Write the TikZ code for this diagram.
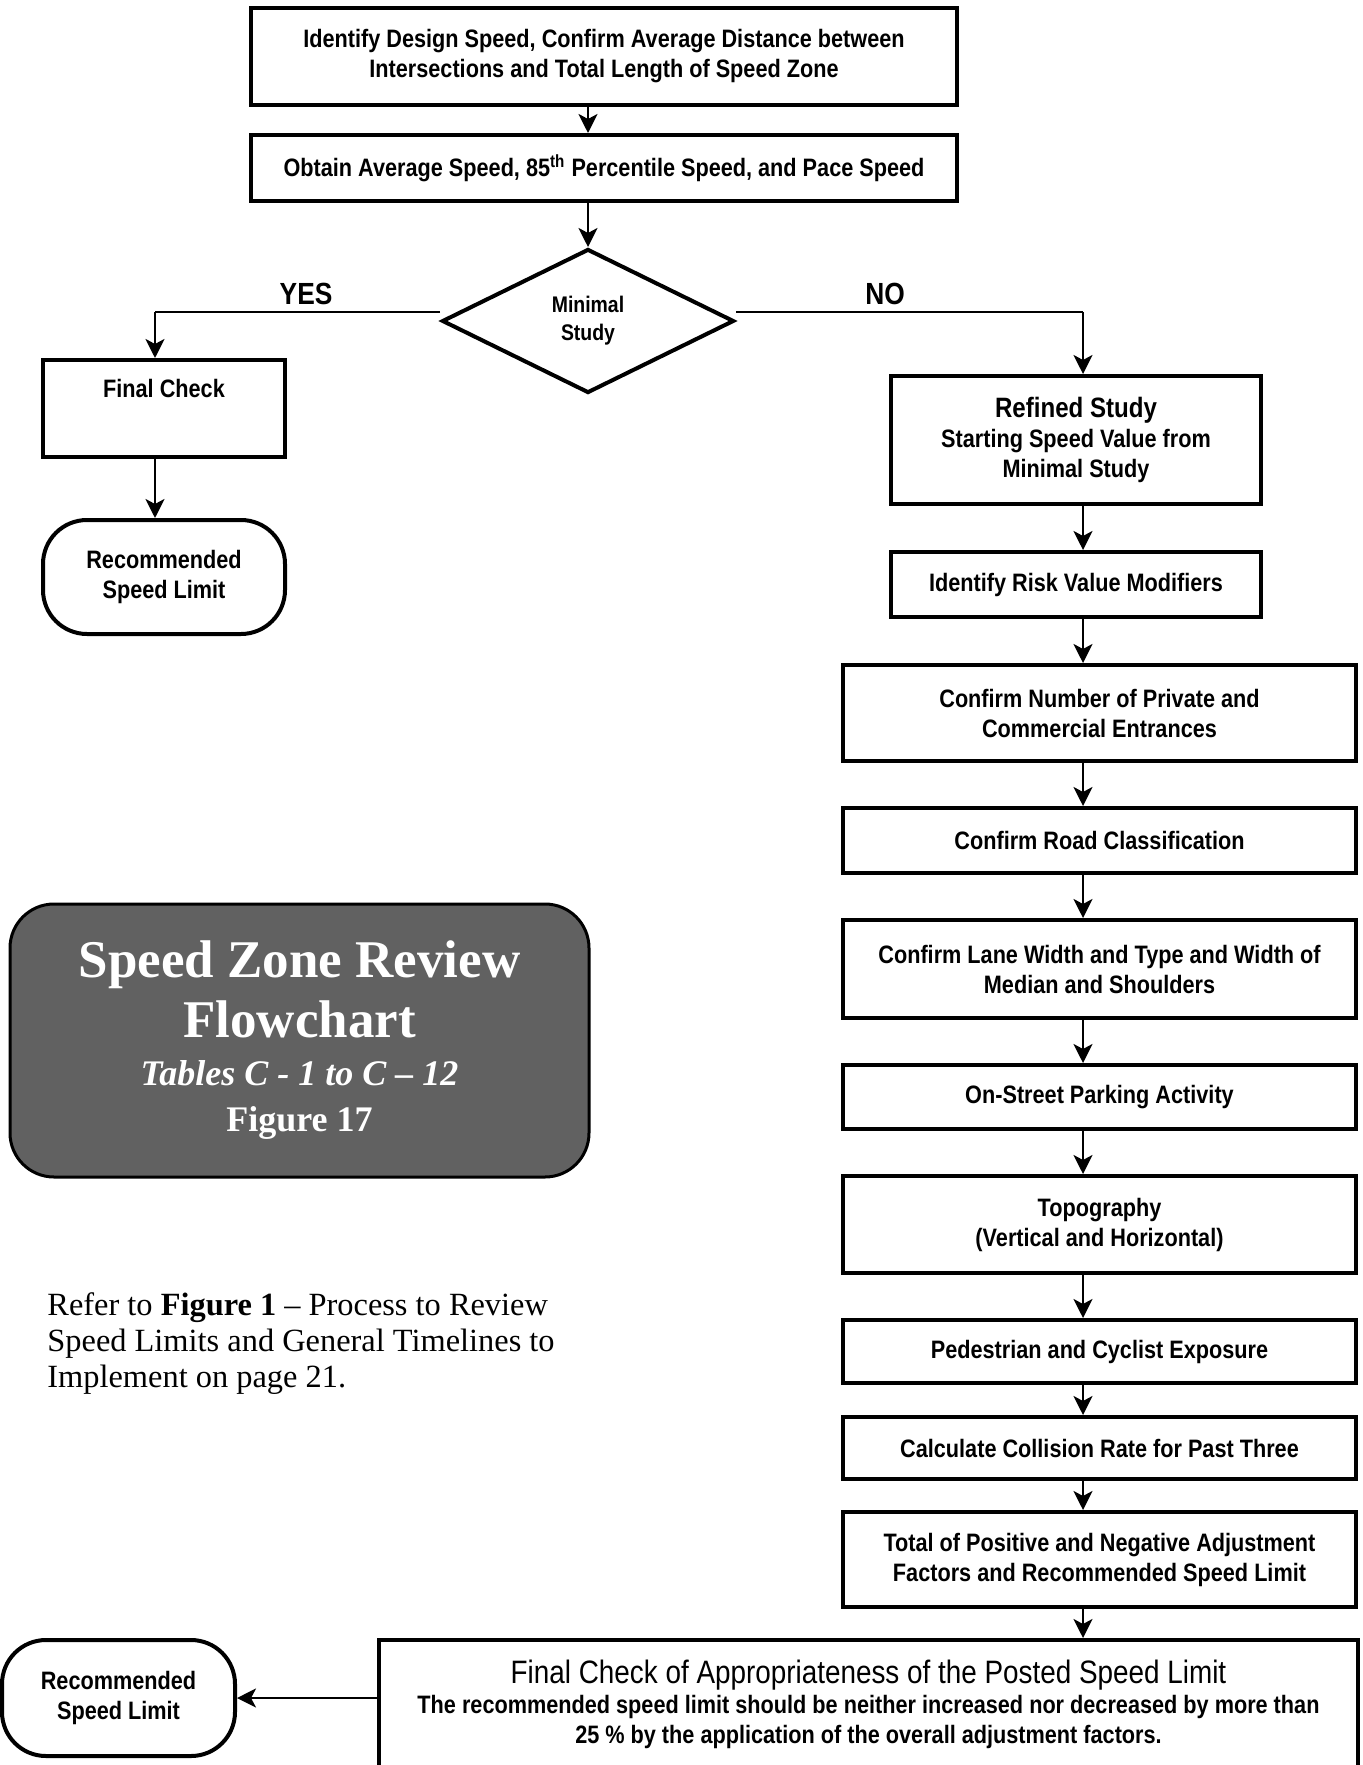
\documentclass[tikz,border=0pt]{standalone}
\usepackage{fontspec}
\setmainfont{Liberation Serif}
\newfontfamily\narrowsans[FakeStretch=0.86]{Liberation Sans}
\usetikzlibrary{shapes.geometric,arrows.meta}

\begin{document}
\begin{tikzpicture}
	[x=0.5pt,y=-0.5pt,line join=miter,
	%Styles
	process box/.style={draw,line width=2pt,inner sep=0pt,align=center,font=\narrowsans\bfseries\fontsize{12.6}{15}\selectfont},
	end box/.style={process box,rounded corners=22pt},
	decision/.style={diamond,draw,line width=2pt,inner sep=0pt,aspect=2,align=center,font=\narrowsans\bfseries\fontsize{11.3}{14}\selectfont},
	title box/.style={draw,line width=1.5pt,rounded corners=22pt,fill=titlefill,text=white,align=center,font=\bfseries\fontsize{26.5}{30}\selectfont},
	flow line/.style={line width=1.35pt,-{Stealth[length=9.5pt,width=9.5pt,inset=2.5pt]}},
	branch line/.style={line width=0.7pt},
	branch text/.style={font=\narrowsans\bfseries\fontsize{15.3}{18}\selectfont}
	]
	
	%Colors
	\colorlet{titlefill}{black!62}
	
	\useasboundingbox (0,0) rectangle (1362,1765);
	
	%The graphic
	\node[process box,minimum width=353pt,minimum height=48.5pt] (design) at (604,56.5)
		{Identify Design Speed, Confirm Average Distance between\\Intersections and Total Length of Speed Zone};
	\node[process box,minimum width=353pt,minimum height=33pt] (speeds) at (604,168)
		{Obtain Average Speed, 85\textsuperscript{th} Percentile Speed, and Pace Speed};
	\node[decision,minimum width=146pt,minimum height=72pt] (minimal) at (588,321) {Minimal\\Study};
	
	%left branch
	\node[process box,minimum width=121pt,minimum height=48.5pt,
		label={[font=\narrowsans\bfseries\fontsize{12.6}{15}\selectfont,anchor=north,yshift=-7pt]north:Final Check}] (check) at (164,408.5) {};
	\node[end box,minimum width=121pt,minimum height=57pt] (recmin) at (164,577) {Recommended\\Speed Limit};
	
	%right branch
	\node[process box,minimum width=185pt,minimum height=64pt] (refined) at (1076,440)
		{{\fontsize{14}{16}\selectfont Refined Study}\\Starting Speed Value from\\Minimal Study};
	\node[process box,minimum width=185pt,minimum height=32.5pt] (risk) at (1076,584.5) {Identify Risk Value Modifiers};
	\node[process box,minimum width=256.5pt,minimum height=48pt] (entrances) at (1099.5,713)
		{Confirm Number of Private and\\Commercial Entrances};
	\node[process box,minimum width=256.5pt,minimum height=32.5pt] (class) at (1099.5,840.5) {Confirm Road Classification};
	\node[process box,minimum width=256.5pt,minimum height=49pt] (lanes) at (1099.5,969)
		{Confirm Lane Width and Type and Width of\\Median and Shoulders};
	\node[process box,minimum width=256.5pt,minimum height=32pt] (parking) at (1099.5,1097) {On-Street Parking Activity};
	\node[process box,minimum width=256.5pt,minimum height=48.5pt] (topo) at (1099.5,1224.5)
		{Topography\\(Vertical and Horizontal)};
	\node[process box,minimum width=256.5pt,minimum height=31.5pt] (exposure) at (1099.5,1351.5) {Pedestrian and Cyclist Exposure};
	\node[process box,minimum width=256.5pt,minimum height=31pt] (collision) at (1099.5,1448) {Calculate Collision Rate for Past Three};
	\node[process box,minimum width=256.5pt,minimum height=47.5pt] (total) at (1099.5,1559.5)
		{Total of Positive and Negative Adjustment\\Factors and Recommended Speed Limit};
	\node[process box,minimum width=489.5pt,minimum height=64pt] (final) at (868.5,1704)
		{{\mdseries\fontsize{16.2}{19}\selectfont Final Check of Appropriateness of the Posted Speed Limit}\\
		The recommended speed limit should be neither increased nor decreased by more than\\
		25 \% by the application of the overall adjustment factors.};
	\node[end box,minimum width=116.5pt,minimum height=58pt] (recfinal) at (118.5,1698) {Recommended\\Speed Limit};
	
	%title and note
	\node[title box,minimum width=289.5pt,minimum height=136.5pt] (title) at (299.5,1040.5)
		{Speed Zone Review\\Flowchart\\[-6pt]
		{\fontsize{18}{22}\selectfont\itshape Tables C - 1 to C -- 12}\\[-7pt]
		{\fontsize{18}{22}\selectfont Figure 17}};
	\node[anchor=north west,inner sep=0pt,align=left,font=\fontsize{16.2}{18}\selectfont] (note) at (47,1292)
		{Refer to \textbf{Figure 1} -- Process to Review\\Speed Limits and General Timelines to\\Implement on page 21.};
	
	%connectors
	\coordinate (yes turn) at (155,312);
	\coordinate (no turn) at (1083,312);
	\draw[flow line] (design.south -| minimal.north) -- (speeds.north -| minimal.north);
	\draw[flow line] (speeds.south -| minimal.north) -- (minimal.north);
	\draw[branch line] ([yshift=4.5pt]minimal.west) -- node[branch text,above,pos=0.47] {YES} (yes turn);
	\draw[branch line] ([yshift=4.5pt]minimal.east) -- node[branch text,above,pos=0.43] {NO} (no turn);
	\draw[flow line] (yes turn) -- (yes turn |- check.north);
	\draw[flow line] (check.south -| yes turn) -- (yes turn |- recmin.north);
	\draw[flow line] (no turn) -- (no turn |- refined.north);
	\foreach \a/\b in {refined/risk,risk/entrances,entrances/class,class/lanes,lanes/parking,parking/topo,topo/exposure,exposure/collision,collision/total,total/final}
		\draw[flow line] (\a.south -| no turn) -- (\b.north -| no turn);
	\draw[flow line] (final.west |- recfinal.east) -- (recfinal.east);
\end{tikzpicture}
\end{document}
